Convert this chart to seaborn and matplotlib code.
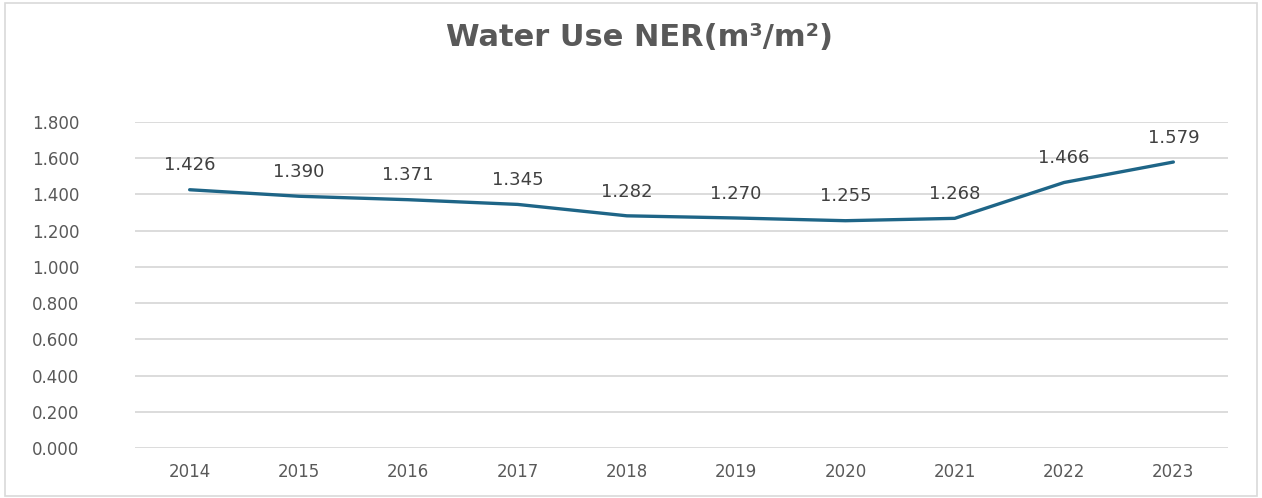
import matplotlib
matplotlib.use("Agg")
import matplotlib.pyplot as plt
import matplotlib.patches as mpatches
import seaborn as sns
import pandas as pd
import numpy as np

# ---- data ----
years = [2014, 2015, 2016, 2017, 2018, 2019, 2020, 2021, 2022, 2023]
values = [1.426, 1.390, 1.371, 1.345, 1.282, 1.270, 1.255, 1.268, 1.466, 1.579]
y_ticks = [0.0, 0.2, 0.4, 0.6, 0.8, 1.0, 1.2, 1.4, 1.6, 1.8]
title = "Water Use NER(m³/m²)"

df = pd.DataFrame({"year": years, "value": values})

sns.set_theme(style="whitegrid")
plt.rcParams["font.family"] = ["DejaVu Sans"]

fig = plt.figure(figsize=(12.62, 4.98), dpi=100)
ax = fig.add_axes([135 / 1262, 1 - 448 / 498, (1228 - 135) / 1262, (448 - 122) / 498])

line_color = "#1E6587"
sns.lineplot(data=df, x="year", y="value", ax=ax, color=line_color, linewidth=2.4)

ax.set_xlim(years[0] - 0.5, years[-1] + 0.5)
ax.set_ylim(0, 1.8)
ax.set_yticks(y_ticks)
ax.set_yticklabels([f"{v:.3f}" for v in y_ticks])
ax.set_xticks(years)
ax.set_xticklabels([str(y) for y in years])
ax.set_xlabel("")
ax.set_ylabel("")

ax.grid(axis="y", color="#D9D9D9", linewidth=1.3)
ax.grid(axis="x", visible=False)
for s in ax.spines.values():
    s.set_visible(False)
ax.set_facecolor("white")
ax.tick_params(axis="y", length=0, pad=40, labelsize=12, labelcolor="#595959")
ax.tick_params(axis="x", length=0, pad=11, labelsize=12, labelcolor="#595959")

for x, v in zip(years, values):
    ax.annotate(f"{v:.3f}", xy=(x, v), xytext=(0, 11), textcoords="offset points",
                ha="center", va="bottom", fontsize=13, color="#404040")

fig.text(0.507, 0.924, title, ha="center", va="center", fontsize=22,
         fontweight="bold", color="#595959")

fig.patches.append(mpatches.Rectangle((0.004, 0.004), 0.992, 0.99, transform=fig.transFigure,
                                      fill=False, edgecolor="#D9D9D9", linewidth=1.2))

fig.savefig("out.png", dpi=100, facecolor="white")
